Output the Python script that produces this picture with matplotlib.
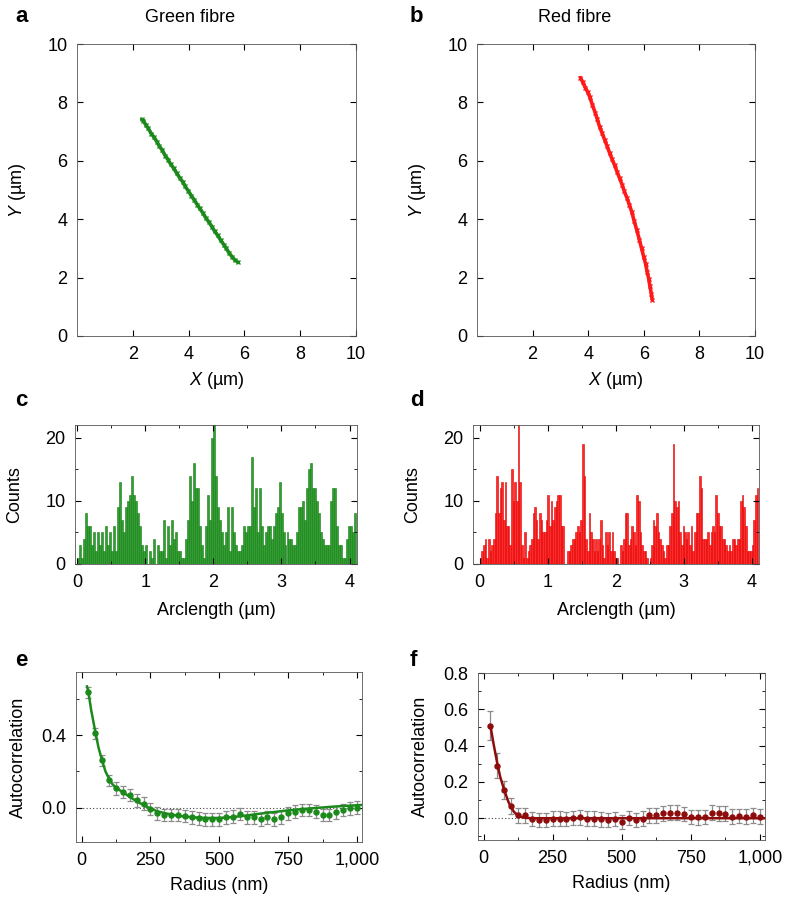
import numpy as np
import matplotlib
matplotlib.use('Agg')
import matplotlib.pyplot as plt
from matplotlib.ticker import MultipleLocator, FixedLocator

plt.rcParams['font.family'] = ['Liberation Sans', 'DejaVu Sans']
plt.rcParams['font.size'] = 13
plt.rcParams['mathtext.fontset'] = 'custom'
plt.rcParams['mathtext.it'] = 'Liberation Sans:italic'
plt.rcParams['mathtext.rm'] = 'Liberation Sans'

# ---- data ----
# fibre tracks (um)
green_x = [2.32, 2.38, 2.47, 2.55, 2.66, 2.75, 2.86, 2.95, 3.06, 3.16, 3.27, 3.36, 3.47, 3.57,
           3.68, 3.79, 3.88, 3.99, 4.10, 4.20, 4.31, 4.40, 4.52, 4.62, 4.73, 4.83, 4.94, 5.04,
           5.15, 5.26, 5.35, 5.46, 5.57, 5.66, 5.78]
green_y = [7.42, 7.38, 7.22, 7.12, 6.93, 6.82, 6.66, 6.50, 6.36, 6.18, 6.03, 5.88, 5.74, 5.58,
           5.42, 5.28, 5.12, 4.97, 4.80, 4.66, 4.50, 4.37, 4.20, 4.04, 3.90, 3.75, 3.58, 3.45,
           3.28, 3.13, 3.00, 2.83, 2.70, 2.60, 2.52]
red_x = [3.72, 3.80, 3.90, 3.98, 4.05, 4.15, 4.25, 4.33, 4.41, 4.50, 4.60, 4.68, 4.77, 4.86,
         4.95, 5.04, 5.13, 5.22, 5.30, 5.39, 5.48, 5.57, 5.65, 5.75, 5.84, 5.92, 6.00, 6.07,
         6.12, 6.18, 6.22, 6.27, 6.30]
red_y = [8.85, 8.70, 8.50, 8.36, 8.20, 7.92, 7.65, 7.42, 7.17, 6.95, 6.70, 6.50, 6.27, 6.05,
         5.85, 5.62, 5.40, 5.18, 4.95, 4.74, 4.50, 4.24, 3.95, 3.62, 3.30, 3.00, 2.70, 2.45,
         2.20, 1.95, 1.70, 1.45, 1.25]

# arclength histograms (counts per bin)
green_counts = [1, 3, 1, 4, 8, 6, 6, 3, 5, 2, 5, 3, 5, 2, 6, 3, 5, 2, 6, 2,
                9, 13, 7, 5, 9, 10, 11, 14, 11, 10, 8, 6, 3, 2, 3, 0, 2, 1, 4, 0,
                3, 2, 2, 7, 1, 6, 3, 7, 4, 5, 2, 2, 1, 1, 4, 7, 14, 10, 16, 12,
                12, 6, 3, 1, 6, 11, 7, 20, 22, 14, 9, 7, 5, 3, 5, 9, 2, 9, 5, 3,
                2, 2, 3, 6, 5, 6, 6, 17, 9, 12, 5, 12, 6, 3, 5, 6, 6, 4, 6, 8,
                9, 13, 8, 5, 3, 5, 4, 4, 3, 3, 5, 9, 9, 10, 7, 12, 15, 16, 12, 12,
                10, 8, 5, 4, 3, 3, 3, 10, 12, 12, 6, 3, 3, 1, 1, 4, 6, 6, 5, 8]
red_counts = [1, 2, 3, 4, 1, 4, 2, 3, 4, 8, 14, 8, 12, 13, 7, 13, 6, 6, 3, 15,
              10, 13, 10, 22, 13, 3, 1, 5, 1, 2, 3, 4, 8, 9, 7, 4, 8, 7, 5, 5,
              7, 11, 6, 10, 7, 9, 10, 11, 11, 6, 6, 0, 0, 2, 2, 3, 4, 4, 5, 6,
              5, 7, 19, 14, 4, 2, 8, 5, 4, 2, 4, 2, 4, 7, 3, 1, 5, 3, 5, 2,
              5, 2, 1, 1, 0, 3, 2, 4, 8, 8, 3, 4, 6, 5, 3, 11, 10, 5, 3, 2,
              2, 1, 0, 1, 3, 7, 6, 8, 5, 4, 3, 2, 1, 3, 3, 6, 8, 19, 10, 9,
              10, 5, 3, 6, 5, 4, 5, 3, 6, 2, 5, 8, 8, 14, 12, 4, 4, 4, 5, 3,
              5, 6, 5, 11, 8, 6, 6, 4, 4, 3, 2, 3, 2, 4, 4, 3, 4, 4, 10, 11,
              9, 6, 2, 2, 2, 3, 7, 11, 12]

# autocorrelation
radius = [25, 50, 75, 100, 125, 150, 175, 200, 225, 250, 275, 300, 325, 350, 375, 400, 425, 450,
          475, 500, 525, 550, 575, 600, 625, 650, 675, 700, 725, 750, 775, 800, 825, 850, 875,
          900, 925, 950, 975, 1000]
green_ac = [0.637, 0.411, 0.263, 0.152, 0.106, 0.087, 0.069, 0.041, 0.022, -0.008, -0.031, -0.040,
            -0.041, -0.041, -0.046, -0.054, -0.059, -0.065, -0.065, -0.065, -0.054, -0.050, -0.035,
            -0.054, -0.054, -0.065, -0.054, -0.065, -0.054, -0.031, -0.022, -0.013, -0.013, -0.022,
            -0.041, -0.041, -0.026, -0.013, -0.004, 0.000]
green_err = [0.03, 0.03, 0.03, 0.03, 0.035, 0.035, 0.035, 0.035, 0.035, 0.035, 0.035, 0.035,
             0.035, 0.035, 0.035, 0.035, 0.035, 0.035, 0.035, 0.035, 0.035, 0.035, 0.035, 0.035,
             0.035, 0.035, 0.035, 0.035, 0.035, 0.035, 0.035, 0.035, 0.035, 0.035, 0.035, 0.035,
             0.035, 0.035, 0.035, 0.035]
red_ac = [0.509, 0.29, 0.155, 0.067, 0.015, 0.015, -0.005, -0.009, -0.009, -0.002, -0.002, -0.005,
          0.0, 0.004, -0.002, -0.002, -0.007, -0.011, -0.005, -0.022, 0.0, -0.011, -0.002, 0.015,
          0.016, 0.027, 0.031, 0.031, 0.022, 0.007, 0.004, 0.007, 0.031, 0.027, 0.025, 0.009,
          0.013, 0.009, 0.015, 0.009]
red_err = [0.08, 0.07, 0.05, 0.045, 0.04, 0.04, 0.04, 0.04, 0.04, 0.04, 0.04, 0.04, 0.04, 0.04,
           0.04, 0.04, 0.04, 0.04, 0.04, 0.04, 0.04, 0.04, 0.04, 0.04, 0.04, 0.04, 0.04, 0.04,
           0.04, 0.04, 0.04, 0.04, 0.04, 0.04, 0.04, 0.04, 0.04, 0.04, 0.04, 0.04]
green_fit_r = [20, 25, 35, 50, 62, 75, 87, 100, 112, 125, 150, 175, 200, 225, 250, 275, 300, 350,
               400, 450, 500, 550, 600, 650, 700, 750, 800, 850, 900, 950, 1020]
green_fit = [0.67, 0.64, 0.54, 0.42, 0.33, 0.26, 0.2, 0.16, 0.13, 0.11, 0.085, 0.06, 0.035, 0.015,
             -0.005, -0.02, -0.03, -0.045, -0.053, -0.057, -0.057, -0.052, -0.043, -0.033, -0.024,
             -0.015, -0.008, -0.002, 0.004, 0.009, 0.015]
red_fit_r = [25, 35, 50, 60, 75, 90, 100, 110, 125, 140, 150, 175, 1020]
red_fit = [0.51, 0.42, 0.30, 0.23, 0.155, 0.09, 0.06, 0.035, 0.015, 0.005, 0.002, 0.0, 0.0]

GREEN = '#1b8a1b'
RED = '#ff1a1a'
DARKRED = '#8e0c0c'

W, H = 788, 909
fig = plt.figure(figsize=(W / 100, H / 100), dpi=100)


def rect(l, r, t, b):
    return [l / W, 1 - b / H, (r - l) / W, (b - t) / H]


def style(ax):
    ax.tick_params(which='both', direction='in', top=True, right=True)
    ax.tick_params(which='major', length=4, width=0.8, pad=7)
    ax.tick_params(which='minor', length=2, width=0.6)
    for s in ax.spines.values():
        s.set_linewidth(0.6)
        s.set_color('#555555')


# ---- a, b: tracks ----
axa = fig.add_axes(rect(77, 356, 44, 336))
axb = fig.add_axes(rect(477, 755, 44, 336))
for ax, xs, ys, col in [(axa, green_x, green_y, GREEN), (axb, red_x, red_y, RED)]:
    ax.plot(xs, ys, color=col, lw=2.6, solid_capstyle='round')
    ax.plot(xs, ys, 'x', color=col, ms=3, mew=1)
    ax.set_xlim(0, 10)
    ax.set_ylim(0, 10)
    ax.xaxis.set_major_locator(FixedLocator([2, 4, 6, 8, 10]))
    ax.yaxis.set_major_locator(MultipleLocator(2))
    style(ax)
    ax.set_xlabel(r'$\it{X}$ (µm)', labelpad=5)
    ax.set_ylabel(r'$\it{Y}$ (µm)', labelpad=14)

# ---- c, d: histograms ----
axc = fig.add_axes(rect(75, 357, 425, 564))
axd = fig.add_axes(rect(473, 759, 425, 564))
for ax, counts, face, edge, lo in [(axc, green_counts, '#2f9f2f', '#1a7a1a', -0.03),
                                   (axd, red_counts, '#ff2a2a', '#e00000', -0.1)]:
    bw = 4.1 / len(counts)
    edges = np.arange(len(counts)) * bw
    ax.bar(edges, counts, width=bw, align='edge', color=face, edgecolor=edge, linewidth=0.4)
    ax.set_xlim(lo, 4.11)
    ax.set_ylim(0, 22)
    ax.xaxis.set_major_locator(MultipleLocator(1))
    ax.xaxis.set_minor_locator(MultipleLocator(0.5))
    ax.yaxis.set_major_locator(MultipleLocator(10))
    ax.yaxis.set_minor_locator(MultipleLocator(5))
    style(ax)
    ax.set_xlabel('Arclength (µm)', labelpad=8)
    ax.set_ylabel('Counts', labelpad=16)

# ---- e, f: autocorrelation ----
axe = fig.add_axes(rect(76, 362, 672, 842))
axf = fig.add_axes(rect(478, 765, 673, 840))
for ax, ac, err, fr, fv, col in [(axe, green_ac, green_err, green_fit_r, green_fit, GREEN),
                                  (axf, red_ac, red_err, red_fit_r, red_fit, DARKRED)]:
    ax.axhline(0, color='#444444', lw=0.8, ls=(0, (1, 2)), zorder=1)
    ax.errorbar(radius, ac, yerr=err, fmt='none', ecolor='#8c8c8c', elinewidth=0.9,
                capsize=2, capthick=0.9, zorder=2)
    ax.plot(radius, ac, 'o', color=col, ms=3.6, zorder=3)
    ax.plot(fr, fv, '-', color=col, lw=1.8, zorder=4)
    ax.set_xlim(-20, 1018)
    ax.xaxis.set_major_locator(FixedLocator([0, 250, 500, 750, 1000]))
    ax.xaxis.set_minor_locator(MultipleLocator(125))
    ax.set_xticklabels(['0', '250', '500', '750', '1,000'])
    style(ax)
    ax.set_xlabel('Radius (nm)', labelpad=6)
    ax.set_ylabel('Autocorrelation', labelpad=10)
axe.set_ylim(-0.19, 0.75)
axe.yaxis.set_major_locator(FixedLocator([0.0, 0.4]))
axe.yaxis.set_minor_locator(FixedLocator([-0.2, 0.2, 0.6]))
axe.set_yticklabels(['0.0', '0.4'])
axf.set_ylim(-0.12, 0.8)
axf.yaxis.set_major_locator(MultipleLocator(0.2))
axf.yaxis.set_minor_locator(MultipleLocator(0.1))
axf.yaxis.set_major_formatter(matplotlib.ticker.FormatStrFormatter('%.1f'))

# ---- panel letters and titles ----
for lab, x, y in [('a', 15, 17), ('b', 410, 17), ('c', 15, 400), ('d', 410, 400),
                  ('e', 15, 660), ('f', 410, 660)]:
    fig.text(x / W, 1 - y / H, lab, fontsize=16, fontweight='bold', va='center', ha='left')
fig.text(190 / W, 1 - 18 / H, 'Green fibre', fontsize=13, ha='center', va='center')
fig.text(575 / W, 1 - 18 / H, 'Red fibre', fontsize=13, ha='center', va='center')

fig.savefig('out.png', dpi=100)
